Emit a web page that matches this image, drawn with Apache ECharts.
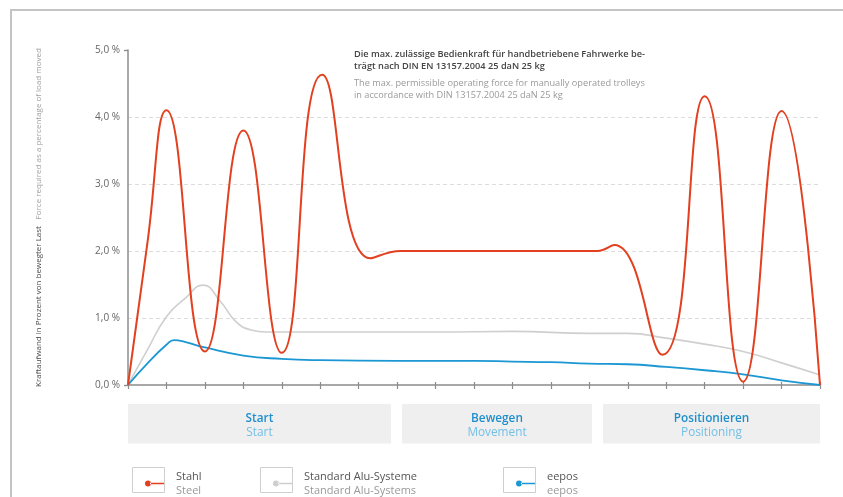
<!DOCTYPE html>
<html>
<head>
<meta charset="utf-8">
<script src="https://cdn.jsdelivr.net/npm/echarts@6/dist/echarts.min.js"></script>
<style>
html,body{margin:0;padding:0;background:#fff;}
#c{width:843px;height:497px;}
</style>
</head>
<body>
<div id="c"></div>
<script>
// ---- data ----
var seriesNames = ['Stahl', 'Standard Alu-Systeme', 'eepos'];
var seriesNamesEn = ['Steel', 'Standard Alu-Systems', 'eepos'];
var phases = ['Start', 'Bewegen', 'Positionieren'];
var phasesEn = ['Start', 'Movement', 'Positioning'];
var yTicks = [0, 1, 2, 3, 4, 5];

// Stahl: turning points
var stahlX = [0, 0.5, 1, 2, 3, 4, 5.05, 6.3, 7.1, 12.2, 12.65, 13.9, 15, 16, 17, 18];
var stahlY = [0, 2.1, 4.1, 0.5, 3.8, 0.48, 4.63, 1.89, 2.0, 2.0, 2.09, 0.45, 4.31, 0.05, 4.09, 0];

var aluX = [0, 0.5, 1, 1.5, 1.95, 2.4, 2.8, 3.2, 3.6, 5, 8, 10, 12, 13, 14, 15, 16, 17, 18];
var aluY = [0, 0.52, 1.02, 1.3, 1.49, 1.25, 0.95, 0.82, 0.79, 0.79, 0.79, 0.8, 0.77, 0.77, 0.7, 0.61, 0.5, 0.33, 0.15];

var eeposX = [0, 0.5, 1, 1.2, 1.5, 2, 3, 4, 5, 7, 9, 10, 11, 12, 13, 14, 15, 16, 17, 18];
var eeposY = [0, 0.32, 0.6, 0.67, 0.64, 0.56, 0.44, 0.39, 0.37, 0.36, 0.36, 0.35, 0.34, 0.32, 0.31, 0.27, 0.22, 0.16, 0.07, 0];

function pairs(xs, ys) { return xs.map(function (x, i) { return [x, ys[i]]; }); }

var colors = ['#e2401f', '#cfcfcf', '#1b97d4'];
var FONT = '"Open Sans", "Noto Sans", sans-serif';

var chart = echarts.init(document.getElementById('c'), null, { renderer: 'canvas' });

var gridL = 128, gridR = 820, gridT = 50, gridB = 385;

function legendFor(i, left) {
  return {
    left: left, top: 466, orient: 'horizontal',
    selectedMode: false,
    data: [{ name: seriesNames[i], icon: 'path://M0,3 A3,3 0 1,0 6,3 A3,3 0 1,0 0,3 Z M5,2.2 H20 V3.8 H5 Z' }],
    itemWidth: 20, itemHeight: 6, itemGap: 0,
    formatter: function (n) { return '{a|' + n + '}\n{b|' + seriesNamesEn[seriesNames.indexOf(n)] + '}'; },
    textStyle: {
      padding: [0, 0, 0, 6],
      rich: {
        a: { fontFamily: FONT, fontSize: 11, color: '#555', lineHeight: 14 },
        b: { fontFamily: FONT, fontSize: 11, color: '#9a9a9a', lineHeight: 14 }
      }
    }
  };
}

var phaseBoxes = [[128, 391], [402, 592], [603, 820]];
var graphics = [
  { type: 'line', shape: { x1: 11, y1: 10, x2: 11, y2: 497 }, style: { stroke: '#c4c4c4', lineWidth: 2 } },
  { type: 'line', shape: { x1: 10, y1: 10, x2: 843, y2: 10 }, style: { stroke: '#c4c4c4', lineWidth: 2 } },
  {
    type: 'text', x: 39, y: 217.5, rotation: Math.PI / 2,
    style: {
      text: '{a|Kraftaufwand in Prozent von bewegter Last}  {b|Force required as a percentage of load moved}',
      align: 'center', verticalAlign: 'middle',
      rich: {
        a: { fontFamily: FONT, fontSize: 8, fill: '#4a4a4a' },
        b: { fontFamily: FONT, fontSize: 8, fill: '#a0a0a0' }
      }
    }
  }
];
phaseBoxes.forEach(function (b, i) {
  graphics.push({ type: 'rect', shape: { x: b[0], y: 404, width: b[1] - b[0], height: 39.5 }, style: { fill: '#efefef' }, z: 1 });
  graphics.push({
    type: 'text', x: (b[0] + b[1]) / 2, y: 425.5, z: 2,
    style: {
      text: '{a|' + phases[i] + '}\n{b|' + phasesEn[i] + '}',
      align: 'center', verticalAlign: 'middle',
      rich: {
        a: { fontFamily: FONT, fontSize: 11.8, fontWeight: 600, fill: '#1f8fcc', lineHeight: 14 },
        b: { fontFamily: FONT, fontSize: 11.8, fill: '#72bfe6', lineHeight: 14 }
      }
    }
  });
});
[[132.5, 467.5], [260.5, 467.5], [503.5, 467.5]].forEach(function (p) {
  graphics.push({ type: 'rect', shape: { x: p[0], y: p[1], width: 32, height: 25 }, style: { fill: 'none', stroke: '#cfcfcf', lineWidth: 1 }, z: 5 });
});

var yFmt = function (v) { return v.toFixed(1).replace('.', ',') + ' %'; };

var option = {
  backgroundColor: '#ffffff',
  animation: false,
  title: {
    left: 349, top: 43,
    text: 'Die max. zulässige Bedienkraft für handbetriebene Fahrwerke be-\nträgt nach DIN EN 13157.2004 25 daN 25 kg',
    subtext: 'The max. permissible operating force for manually operated trolleys\nin accordance with DIN 13157.2004 25 daN 25 kg',
    itemGap: 6,
    textStyle: { fontFamily: FONT, fontSize: 9.2, fontWeight: 600, color: '#444', lineHeight: 12 },
    subtextStyle: { fontFamily: FONT, fontSize: 9.2, color: '#9a9a9a', lineHeight: 11.5 }
  },
  grid: { left: gridL, right: 843 - gridR, top: gridT, bottom: 497 - gridB, containLabel: false },
  legend: [legendFor(0, 140), legendFor(1, 268), legendFor(2, 511)],
  xAxis: [
    {
      type: 'value', min: 0, max: 18, interval: 1,
      axisLine: { lineStyle: { color: '#8c8c8c', width: 1.5 } },
      axisTick: { show: true, length: 4, lineStyle: { color: '#8c8c8c', width: 1.2 } },
      axisLabel: { show: false }, splitLine: { show: false }
    },
    {
      type: 'value', min: 0, max: 18, interval: 1, position: 'bottom',
      axisLine: { show: false },
      axisTick: { show: true, inside: true, length: 3, lineStyle: { color: '#8c8c8c', width: 1.2 } },
      axisLabel: { show: false }, splitLine: { show: false }
    }
  ],
  yAxis: [
    {
      type: 'value', min: yTicks[0], max: yTicks[yTicks.length - 1], interval: 1,
      axisLine: { show: true, lineStyle: { color: '#8c8c8c', width: 1.5 } },
      axisTick: { show: false },
      axisLabel: { formatter: yFmt, fontFamily: FONT, fontSize: 10, color: '#666', margin: 8 },
      splitLine: { show: true, lineStyle: { type: [4, 3], color: ['rgba(0,0,0,0)', '#dcdcdc', '#dcdcdc', '#dcdcdc', '#dcdcdc', 'rgba(0,0,0,0)'], width: 1 } }
    },
    {
      type: 'value', min: 0, max: 5, interval: 5,
      axisLine: { show: false },
      axisTick: { show: true, inside: true, length: 4, lineStyle: { color: '#8c8c8c', width: 1.2 } },
      axisLabel: { show: false }, splitLine: { show: false }
    },
    {
      type: 'value', min: 0, max: 5, interval: 5, position: 'left',
      axisLine: { show: false },
      axisTick: { show: true, inside: false, length: 4, lineStyle: { color: '#8c8c8c', width: 1.2 } },
      axisLabel: { show: false }, splitLine: { show: false }
    }
  ],
  series: [
    {
      name: seriesNames[1], type: 'line', data: pairs(aluX, aluY), smooth: 0.5,
      showSymbol: false, symbol: 'circle', color: colors[1],
      lineStyle: { color: colors[1], width: 1.6 }, z: 2
    },
    {
      name: seriesNames[2], type: 'line', data: pairs(eeposX, eeposY), smooth: 0.5,
      showSymbol: false, symbol: 'circle', color: colors[2],
      lineStyle: { color: colors[2], width: 1.8 }, z: 3
    },
    {
      name: seriesNames[0], type: 'line', data: pairs(stahlX, stahlY), smooth: 0.5,
      showSymbol: false, symbol: 'circle', color: colors[0],
      lineStyle: { color: colors[0], width: 2 }, z: 4
    }
  ],
  graphic: graphics
};
chart.setOption(option);
</script>
</body>
</html>
